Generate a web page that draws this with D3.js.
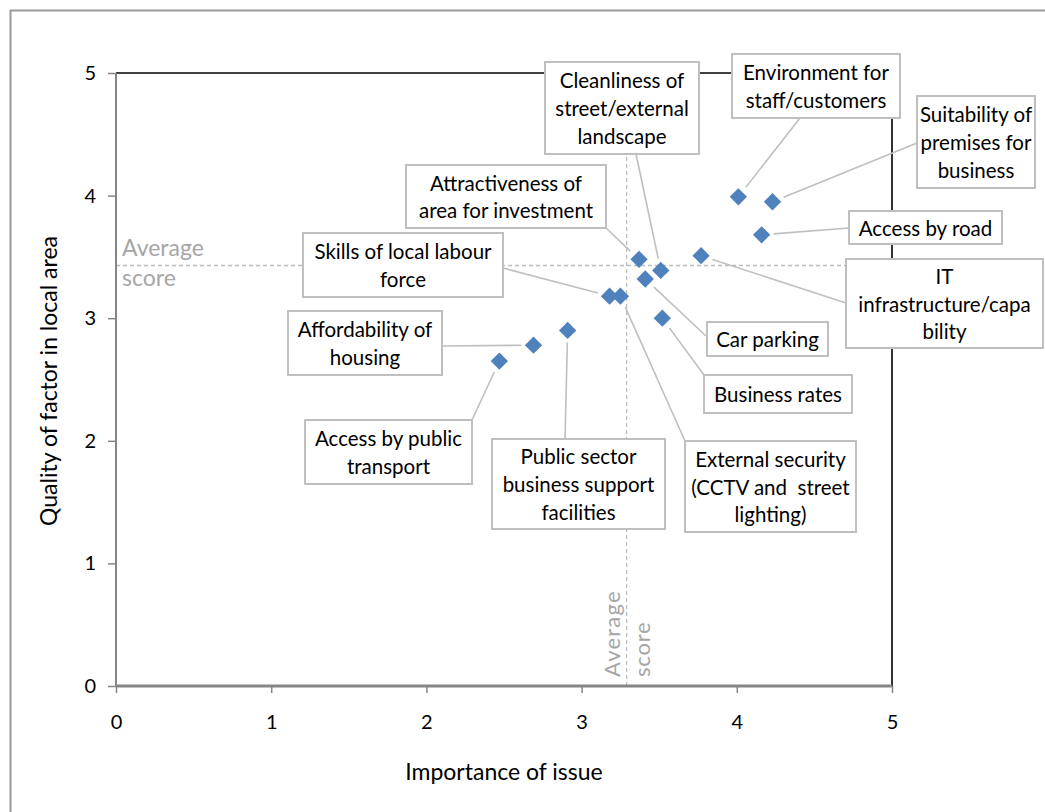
<!DOCTYPE html>
<html><head><meta charset="utf-8">
<script src="https://cdn.jsdelivr.net/npm/d3@7"></script>
<style>body{margin:0;background:#fff;} svg{display:block;font-family:Lato,'Noto Sans',sans-serif;}</style>
</head><body><svg id="c" width="1045" height="812"></svg>
<script>
// ---- data ----
const factors = [
  "Access by public transport",
  "Affordability of housing",
  "Public sector business support facilities",
  "Skills of local labour force",
  "External security (CCTV and street lighting)",
  "Attractiveness of area for investment",
  "Car parking",
  "Cleanliness of street/external landscape",
  "Business rates",
  "IT infrastructure/capability",
  "Environment for staff/customers",
  "Suitability of premises for business",
  "Access by road"
];
const importance = [2.47, 2.69, 2.91, 3.18, 3.25, 3.37, 3.41, 3.51, 3.52, 3.77, 4.01, 4.23, 4.16];
const quality    = [2.65, 2.78, 2.90, 3.18, 3.18, 3.48, 3.32, 3.39, 3.00, 3.51, 3.99, 3.95, 3.68];
const labelLines = [
  ["Access by public", "transport"],
  ["Affordability of", "housing"],
  ["Public sector", "business support", "facilities"],
  ["Skills of local labour", "force"],
  ["External security", "(CCTV and  street", "lighting)"],
  ["Attractiveness of", "area for investment"],
  ["Car parking"],
  ["Cleanliness of", "street/external", "landscape"],
  ["Business rates"],
  ["IT", "infrastructure/capa", "bility"],
  ["Environment for", "staff/customers"],
  ["Suitability of", "premises for", "business"],
  ["Access by road"]
];
const xTicks = [0, 1, 2, 3, 4, 5];
const yTicks = [0, 1, 2, 3, 4, 5];
const avgImportance = 3.29;
const avgQuality = 3.43;
const xTitle = "Importance of issue";
const yTitle = "Quality of factor in local area";
const avgText = ["Average", "score"];

// ---- layout (label box placement) ----
const boxes = [
  {x:305,y:420,w:167,h:64, ax:472,ay:420},
  {x:288,y:311,w:154,h:64, ax:442,ay:346},
  {x:492,y:439,w:173,h:90, ax:565,ay:439},
  {x:303,y:233,w:200,h:64, ax:503,ay:268},
  {x:685,y:441,w:171,h:91, ax:685,ay:441},
  {x:406,y:165,w:200,h:63, ax:606,ay:228},
  {x:707,y:322,w:121,h:34, ax:706,ay:336},
  {x:545,y:62, w:154,h:92, ax:636,ay:154},
  {x:704,y:375,w:148,h:38, ax:704,ay:375},
  {x:846,y:259,w:197,h:89, ax:846,ay:303},
  {x:732,y:54, w:168,h:64, ax:800,ay:118},
  {x:917,y:96, w:118,h:92, ax:917,ay:143},
  {x:849,y:211,w:153,h:33, ax:849,ay:228}
];

const svg = d3.select("#c");
const L = 116, R = 892, T = 73, B = 686;
const x = d3.scaleLinear().domain([0,5]).range([L,R]);
const y = d3.scaleLinear().domain([0,5]).range([B,T]);

// outer frame
svg.append("rect").attr("x",10.5).attr("y",10.5).attr("width",1100).attr("height",900)
  .attr("fill","none").attr("stroke","#9a9a9a").attr("stroke-width",2);

// average dashed lines
svg.append("line").attr("x1",L).attr("x2",R).attr("y1",y(avgQuality)).attr("y2",y(avgQuality))
  .attr("stroke","#bcbcbc").attr("stroke-width",1.3).attr("stroke-dasharray","4,3");
svg.append("line").attr("x1",x(avgImportance)).attr("x2",x(avgImportance)).attr("y1",T).attr("y2",B)
  .attr("stroke","#bcbcbc").attr("stroke-width",1.3).attr("stroke-dasharray","4,3");

// average labels
const avgH = svg.append("text").attr("fill","#a6a6a6").attr("font-size",23);
avgH.selectAll("tspan").data(avgText).join("tspan")
  .attr("x",L+6).attr("y",(d,i)=>y(avgQuality)-18+i*30).attr("dominant-baseline","central").text(d=>d);
const avgV = svg.append("g").attr("transform",`translate(${x(avgImportance)},${B-9}) rotate(-90)`);
avgV.selectAll("text").data(avgText).join("text").attr("fill","#a6a6a6").attr("font-size",22)
  .attr("x",0).attr("y",(d,i)=>-15+i*30).attr("dominant-baseline","central")
  .attr("letter-spacing",(d,i)=>i===0?1.2:0.8).text(d=>d);

// plot border top/right
svg.append("path").attr("d",`M${L},${T}H${R}V${B}`).attr("fill","none").attr("stroke","#000").attr("stroke-width",1.6);

// axes
const yAxis = svg.append("g").attr("transform",`translate(${L},0)`)
  .call(d3.axisLeft(y).tickValues(yTicks).tickSize(8).tickPadding(12).tickFormat(d3.format("d")));
const xAxis = svg.append("g").attr("transform",`translate(0,${B})`)
  .call(d3.axisBottom(x).tickValues(xTicks).tickSize(7).tickPadding(22).tickFormat(d3.format("d")));
[yAxis,xAxis].forEach(a=>{
  a.select(".domain").attr("stroke","#868686").attr("stroke-width",2);
  a.selectAll(".tick line").attr("stroke","#868686").attr("stroke-width",1.5);
  a.selectAll(".tick text").attr("fill","#000").attr("font-size",20).attr("font-family","Lato,'Noto Sans',sans-serif");
});
xAxis.select(".domain").attr("stroke-width",3).attr("d",`M${L},0H${R}`);
yAxis.select(".domain").attr("d",`M0,${B}V${T}`);

// axis titles
svg.append("text").attr("x",504).attr("y",771).attr("text-anchor","middle").attr("dominant-baseline","central")
  .attr("font-size",23).text(xTitle);
svg.append("text").attr("transform",`translate(48,381) rotate(-90)`).attr("text-anchor","middle")
  .attr("dominant-baseline","central").attr("font-size",23).text(yTitle);

// data join
const data = factors.map((f,i)=>({name:f, ix:importance[i], q:quality[i], lines:labelLines[i], box:boxes[i]}));

// leader lines
svg.append("g").selectAll("line").data(data).join("line")
  .each(function(d){
    const px = x(d.ix), py = y(d.q);
    const dx = d.box.ax-px, dy = d.box.ay-py, len = Math.hypot(dx,dy);
    d3.select(this).attr("x1",px+dx/len*12).attr("y1",py+dy/len*12).attr("x2",d.box.ax).attr("y2",d.box.ay);
  })
  .attr("stroke","#bfbfbf").attr("stroke-width",1.6);

// label boxes
const lg = svg.append("g").selectAll("g").data(data).join("g");
lg.append("rect").attr("x",d=>d.box.x).attr("y",d=>d.box.y).attr("width",d=>d.box.w).attr("height",d=>d.box.h)
  .attr("fill","#fff").attr("stroke","#bfbfbf").attr("stroke-width",2);
lg.append("text").attr("font-size",20.5).attr("fill","#000").attr("text-anchor","middle")
  .each(function(d){
    const cx = d.box.x+d.box.w/2, cy = d.box.y+d.box.h/2, n = d.lines.length;
    d3.select(this).selectAll("tspan").data(d.lines).join("tspan")
      .attr("x",cx).attr("y",(t,i)=>cy+(i-(n-1)/2)*27.8).attr("dominant-baseline","central")
      .attr("xml:space","preserve").text(t=>t);
  });

// points
svg.append("g").selectAll("path").data(data).join("path")
  .attr("d",d3.symbol(d3.symbolSquare,150))
  .attr("transform",d=>`translate(${x(d.ix)},${y(d.q)}) rotate(45)`)
  .attr("fill","#4f81bd");
</script>
</body></html>
